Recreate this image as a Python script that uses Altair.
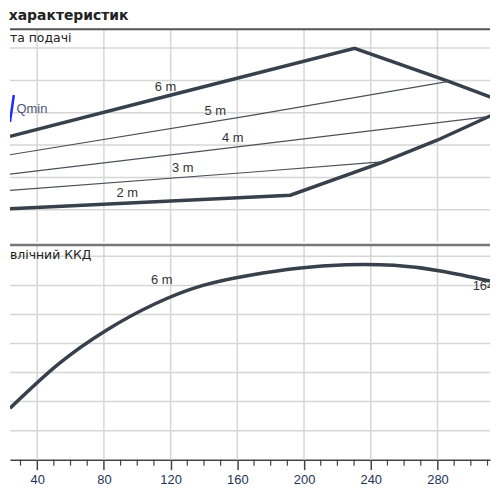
import altair as alt
import pandas as pd

# ---------------- data ----------------
x_major = [40, 80, 120, 160, 200, 240, 280]
x_minor = [30, 50, 60, 70, 90, 100, 110, 130, 140, 150, 170, 180, 190,
           210, 220, 230, 250, 260, 270, 290, 300, 310]
head_grid = [1, 2, 3, 4, 5, 6]
eff_grid = [10, 20, 30, 40, 50, 60, 70]

# thick envelope (2 m lower line, right edge, 6 m upper line)
env_q = [23.7, 191.8, 246.4, 279.8, 311.5, 325.9, 311.5, 286.7, 230.3, 119.8, 23.7]
env_h = [1.03, 1.45, 2.46, 3.15, 3.90, 4.22, 4.49, 4.97, 5.99, 4.54, 3.27]

# thin lines
line5_q = [23.7, 167.6, 286.7]
line5_h = [2.70, 3.91, 4.97]
line4_q = [23.7, 167.6, 309.2]
line4_h = [2.10, 2.99, 3.87]
line3_q = [23.7, 167.6, 246.4]
line3_h = [1.60, 2.16, 2.48]

# Qmin marker
qmin_q = [23.7, 26.0]
qmin_h = [3.72, 4.55]

top_labels = ["6 m", "5 m", "4 m", "3 m", "2 m"]
top_label_q = [117.0, 146.8, 157.2, 127.3, 94.0]
top_label_h = [4.79, 4.04, 3.21, 2.28, 1.51]

# efficiency curve
eff_q = [23.7, 52.5, 81.3, 110.1, 138.9, 167.6, 196.4, 225.2, 253.9, 282.7, 311.5]
eff_v = [17.7, 32.8, 44.5, 53.5, 59.9, 63.5, 65.9, 67.1, 66.9, 64.9, 61.5]

bottom_labels = ["6 m", "164"]
bottom_label_q = [108.3, 301.1]
bottom_label_v = [61.9, 59.9]

# ---------------- layout ----------------
W = 483
H_TOP = 214
H_BOT = 216
XDOM = [23.7, 311.5]
HDOM = [0, 6.58]
EDOM = [0, 73.9]

LINE = "#38414b"
GRID = "#d6d6d6"
FONT = "Liberation Sans"

xs = alt.Scale(domain=XDOM, nice=False, zero=False)
hy = alt.Scale(domain=HDOM, nice=False, zero=False)
ey = alt.Scale(domain=EDOM, nice=False, zero=False)

no_axis = None

bx_axis = alt.Axis(values=x_major, grid=False, title=None, tickSize=10,
                   tickColor="#444444", tickWidth=1.5, domainColor="#444444",
                   domainWidth=1.5, labelFont=FONT, labelFontSize=13,
                   labelColor="#1e3456", labelPadding=4, format="d")


# ---- grid layers ----
def vgrid(h, axis):
    return alt.Chart(pd.DataFrame({"q": x_major})).mark_rule(
        color=GRID, strokeWidth=1.5).encode(
        x=alt.X("q:Q", scale=xs, axis=axis), y=alt.value(0), y2=alt.value(h))


def hgrid(vals, scale):
    return alt.Chart(pd.DataFrame({"g": vals})).mark_rule(
        color=GRID, strokeWidth=1.5).encode(
        y=alt.Y("g:Q", scale=scale, axis=no_axis), x=alt.value(0), x2=alt.value(W))


# ---- top panel ----
env_df = pd.DataFrame({"q": env_q, "h": env_h, "o": list(range(len(env_q)))})
thin_df = pd.concat([
    pd.DataFrame({"q": line5_q, "h": line5_h, "s": "5"}),
    pd.DataFrame({"q": line4_q, "h": line4_h, "s": "4"}),
    pd.DataFrame({"q": line3_q, "h": line3_h, "s": "3"}),
])
qmin_df = pd.DataFrame({"q": qmin_q, "h": qmin_h})
tl_df = pd.DataFrame({"q": top_label_q, "h": top_label_h, "t": top_labels})

env = alt.Chart(env_df).mark_line(color=LINE, strokeWidth=3.5, clip=True).encode(
    x=alt.X("q:Q", scale=xs, axis=no_axis),
    y=alt.Y("h:Q", scale=hy, axis=no_axis), order="o:Q")
thin = alt.Chart(thin_df).mark_line(color="#4b525a", strokeWidth=1.2, clip=True).encode(
    x=alt.X("q:Q", scale=xs, axis=no_axis),
    y=alt.Y("h:Q", scale=hy, axis=no_axis), detail="s:N")
qmin = alt.Chart(qmin_df).mark_line(color="#1a2cff", strokeWidth=2.5, clip=True).encode(
    x=alt.X("q:Q", scale=xs, axis=no_axis),
    y=alt.Y("h:Q", scale=hy, axis=no_axis))
qmin_t = alt.Chart(pd.DataFrame({"q": [27.6], "h": [4.13], "t": ["Qmin"]})).mark_text(
    align="left", baseline="middle", font=FONT, fontSize=13, color="#4a5872").encode(
    x=alt.X("q:Q", scale=xs, axis=no_axis),
    y=alt.Y("h:Q", scale=hy, axis=no_axis), text="t:N")
tl = alt.Chart(tl_df).mark_text(font=FONT, fontSize=13, color="#333333",
                               baseline="middle").encode(
    x=alt.X("q:Q", scale=xs, axis=no_axis),
    y=alt.Y("h:Q", scale=hy, axis=no_axis), text="t:N")
top_border = alt.Chart(pd.DataFrame({"a": [0]})).mark_rule(color="#555555", strokeWidth=2).encode(
    x=alt.value(0), x2=alt.value(W), y=alt.value(0))
top_sub = alt.Chart(pd.DataFrame({"t": ["та подачі"]})).mark_text(
    align="left", baseline="middle", font="DejaVu Sans", fontSize=12.5, color="#222222").encode(
    x=alt.value(0), y=alt.value(9), text="t:N")

top = alt.layer(vgrid(H_TOP, no_axis), hgrid(head_grid, hy), env, thin, qmin, qmin_t, tl,
                top_border, top_sub).properties(width=W, height=H_TOP)

# ---- bottom panel ----
eff_df = pd.DataFrame({"q": eff_q, "v": eff_v})
bl_df = pd.DataFrame({"q": bottom_label_q, "v": bottom_label_v, "t": bottom_labels})
minor_df = pd.DataFrame({"q": x_minor})

eff = alt.Chart(eff_df).mark_line(color=LINE, strokeWidth=3.5, clip=True,
                                  interpolate="natural").encode(
    x=alt.X("q:Q", scale=xs, axis=bx_axis),
    y=alt.Y("v:Q", scale=ey, axis=no_axis))
bl = alt.Chart(bl_df).mark_text(font=FONT, fontSize=13, color="#333333",
                               baseline="middle", align="left", clip=True).encode(
    x=alt.X("q:Q", scale=xs, axis=bx_axis), y=alt.Y("v:Q", scale=ey, axis=no_axis),
    text="t:N")
minor = alt.Chart(minor_df).mark_rule(color="#444444", strokeWidth=1.2).encode(
    x=alt.X("q:Q", scale=xs, axis=bx_axis), y=alt.value(H_BOT), y2=alt.value(H_BOT + 6))
bot_border = alt.Chart(pd.DataFrame({"a": [0]})).mark_rule(color="#777777", strokeWidth=2.5).encode(
    x=alt.value(0), x2=alt.value(W), y=alt.value(0))
bot_sub = alt.Chart(pd.DataFrame({"t": ["влічний ККД"]})).mark_text(
    align="left", baseline="middle", font="DejaVu Sans", fontSize=12.5, color="#222222").encode(
    x=alt.value(0), y=alt.value(10), text="t:N")

bottom = alt.layer(vgrid(H_BOT, bx_axis), hgrid(eff_grid, ey), eff, bl, minor, bot_border,
                   bot_sub).properties(width=W, height=H_BOT)

chart = alt.vconcat(top, bottom, spacing=0).properties(
    padding=0,
    title=alt.TitleParams("характеристик", anchor="start", fontSize=14,
                          fontWeight="bold", font="DejaVu Sans", color="#222222",
                          offset=5),
).configure_view(stroke=None).configure_concat(spacing=0)

chart.save("out.html", embed_options={"renderer": "svg", "actions": False})
